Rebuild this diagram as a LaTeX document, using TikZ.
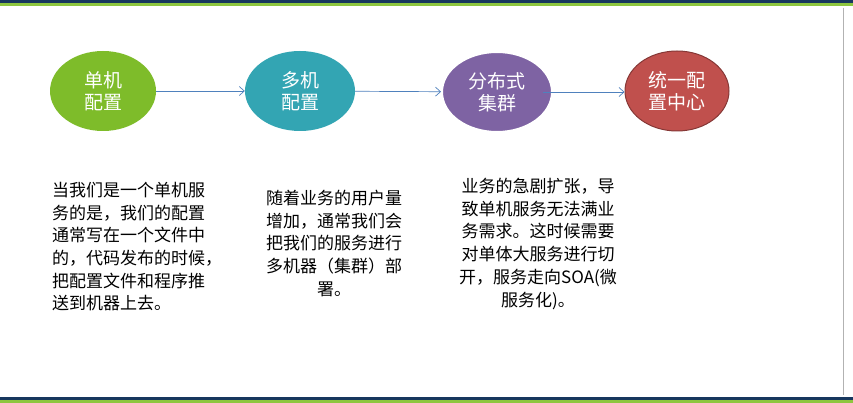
\documentclass[tikz,border=0pt]{standalone}
\usepackage{fontspec}
\newfontfamily\cjk{Noto Sans CJK SC}
\usetikzlibrary{shapes.geometric,arrows.meta}
\definecolor{navy}{HTML}{17375E}
\definecolor{lgreen}{HTML}{8DC63F}
\definecolor{c1}{HTML}{7EBC2A}
\definecolor{c2}{HTML}{33A5B3}
\definecolor{c3}{HTML}{7E63A3}
\definecolor{c4}{HTML}{C0504D}
\definecolor{arr}{HTML}{4F81BD}
\begin{document}
\begin{tikzpicture}[x=1pt,y=-1pt,
  bub/.style={ellipse,minimum width=106pt,minimum height=80pt,inner sep=0pt,text=white,font=\cjk\fontsize{19}{22}\selectfont,align=center},
  link/.style={draw=arr,-{Straight Barb[length=5pt,width=9pt]},line width=0.7pt},
  desc/.style={font=\cjk\fontsize{17}{22.7}\selectfont,text=black,inner sep=0pt}]
\useasboundingbox (0,0) rectangle (853,403);
\fill[white] (0,0) rectangle (853,403);
\fill[navy] (0,0) rectangle (853,3.5);
\fill[lgreen] (0,3.5) rectangle (853,6.5);
\fill[navy] (0,397) rectangle (853,400);
\fill[lgreen] (0,400) rectangle (853,403);
\draw[gray!60,line width=0.6pt] (843,8) -- (843,395);
\node[bub,fill=c1] (a) at (103,91) {单机\\配置};
\node[bub,fill=c2,minimum width=110pt] (b) at (300,91) {多机\\配置};
\node[bub,fill=c3,minimum width=110pt,draw=white,line width=2pt] (c) at (497,92) {分布式\\集群};
\node[bub,fill=c4,draw=c4!70!black,line width=1pt,minimum width=104pt] (d) at (677,91) {统一配\\置中心};
\draw[link] (a) -- (b);
\draw[link] (b) -- (c);
\draw[link] (c.center)+(46,0) coordinate (cs) -- (d.west|-cs);
\node[desc,anchor=north west,align=left] (t1) at (52,182) {当我们是一个单机服\\务的是，我们的配置\\通常写在一个文件中\\的，代码发布的时候，\\把配置文件和程序推\\送到机器上去。};
\node[desc,anchor=north,align=center] (t2) at (334,190) {随着业务的用户量\\增加，通常我们会\\把我们的服务进行\\多机器（集群）部\\署。};
\node[desc,anchor=north,align=center] (t3) at (538,178) {业务的急剧扩张，导\\致单机服务无法满业\\务需求。这时候需要\\对单体大服务进行切\\开，服务走向SOA(微\\服务化)。};
\end{tikzpicture}
\end{document}
